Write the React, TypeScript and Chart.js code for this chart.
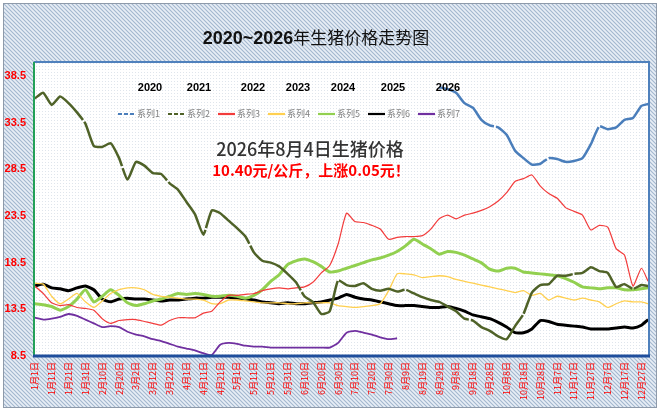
import { useEffect, useRef } from "react";
import { Chart, registerables } from "chart.js";

Chart.register(...registerables);

// ---- data ----
const sampleDays = [
  0, 5, 10, 15, 20, 25, 30, 35, 40, 45, 50, 55, 60, 65, 70, 75, 80, 85, 90, 95,
  100, 105, 110, 115, 120, 125, 130, 135, 140, 145, 150, 155, 160, 165, 170, 175,
  180, 185, 190, 195, 200, 205, 210, 215, 220, 225, 230, 235, 240, 245, 250, 255,
  260, 265, 270, 275, 280, 285, 290, 295, 300, 305, 310, 315, 320, 325, 330, 335,
  340, 345, 350, 355, 360, 364,
];

const tickDays = [
  0, 10, 20, 30, 40, 50, 60, 70, 80, 90, 100, 110, 120, 130, 140, 150, 160, 170,
  180, 190, 200, 210, 220, 230, 240, 250, 260, 270, 280, 290, 300, 310, 320, 330,
  340, 350, 360,
];

const tickLabels = [
  "1月1日", "1月11日", "1月21日", "1月31日", "2月10日", "2月20日", "3月2日",
  "3月12日", "3月22日", "4月1日", "4月11日", "4月21日", "5月1日", "5月11日",
  "5月21日", "5月31日", "6月10日", "6月20日", "6月30日", "7月10日", "7月20日",
  "7月30日", "8月9日", "8月19日", "8月29日", "9月8日", "9月18日", "9月28日",
  "10月8日", "10月18日", "10月28日", "11月7日", "11月17日", "11月27日",
  "12月7日", "12月17日", "12月27日",
];

const yTicks = [8.5, 13.5, 18.5, 23.5, 28.5, 33.5, 38.5];

const seriesNames = ["系列1", "系列2", "系列3", "系列4", "系列5", "系列6", "系列7"];
const yearLabels = ["2020", "2021", "2022", "2023", "2024", "2025", "2026"];

const N = null;
const series1 = [
  N, N, N, N, N, N, N, N, N, N, N, N, N, N, N, N, N, N, N, N,
  N, N, N, N, N, N, N, N, N, N, N, N, N, N, N, N, N, N, N, N,
  N, N, N, N, N, N, N, N,
  37.3, 37.1, 36.7, 35.6, 35.1, 33.8, 33.2, 33.0, 32.2, 30.5, 29.7, 29.0, 29.1,
  29.7, 29.6, 29.3, 29.4, 29.7, 31.2, 33.1, 32.8, 33.0, 33.8, 34.0, 35.3, 35.5,
];
const series2 = [
  36.1, 36.7, 35.4, 36.3, 35.6, 34.6, 33.4, 31.0, 30.9, 31.3, 29.7, 27.4, 29.3,
  28.9, 28.1, 28.0, 27.0, 26.3, 25.0, 23.7, 21.5, 24.1, 23.8, 23.0, 22.2, 21.3,
  19.6, 18.7, 18.5, 18.1, 17.3, 16.4, 14.9, 14.3, 13.0, 13.3, 16.6, 16.1, 16.0,
  16.3, 15.7, 15.5, 15.7, 15.4, 15.6, 15.2, 14.8, 14.5, 14.3, 13.8, 13.3, 12.5,
  12.3, 11.6, 11.2, 10.6, 10.3, 11.7, 13.0, 15.3, 16.1, 16.2, 17.1, 17.1, 17.3,
  17.4, 18.0, 17.6, 17.4, 15.9, 16.2, 15.7, 16.1, 16.0,
];
const series3 = [
  16.0, 15.2, 14.2, 13.9, 14.0, 13.7, 13.6, 13.4, 12.5, 12.0, 12.3, 12.4, 12.4,
  12.2, 12.0, 11.8, 12.3, 12.6, 12.6, 12.6, 13.1, 13.3, 14.3, 15.0, 15.0, 15.1,
  15.2, 15.5, 15.7, 15.8, 15.7, 15.8, 15.9, 16.4, 17.4, 18.2, 20.5, 23.8, 22.9,
  22.8, 22.5, 22.1, 21.0, 21.2, 21.3, 21.3, 21.4, 22.1, 23.2, 23.6, 23.2, 23.6,
  23.8, 24.1, 24.5, 25.1, 26.0, 27.2, 27.5, 27.9, 26.7, 25.9, 25.4, 24.4, 24.0,
  23.6, 22.0, 22.5, 22.3, 20.0, 19.3, 16.0, 17.9, 16.5,
];
const series4 = [
  16.3, 16.2, 14.9, 14.1, 14.6, 15.2, 14.3, 13.7, 14.4, 15.2, 15.6, 15.8, 15.8,
  15.6, 15.1, 14.9, 14.8, 14.7, 14.6, 14.6, 14.5, 14.1, 14.1, 14.5, 14.5, 14.4,
  14.3, 14.2, 14.2, 14.2, 14.1, 14.1, 14.2, 14.2, 14.2, 14.2, 13.9, 13.8, 13.7,
  13.8, 13.9, 14.1, 15.5, 17.3, 17.3, 17.2, 16.9, 17.0, 17.1, 17.0, 16.7, 16.5,
  16.3, 16.1, 15.9, 15.7, 15.5, 15.3, 15.5, 15.0, 15.2, 14.5, 14.9, 14.7, 14.5,
  14.7, 14.5, 14.3, 13.7, 14.1, 14.4, 14.3, 14.3, 14.1,
];
const series5 = [
  14.1, 14.0, 13.8, 13.4, 13.8, 14.6, 15.6, 14.3, 14.9, 15.6, 15.0, 14.2, 13.9,
  14.1, 14.4, 14.6, 14.9, 15.2, 15.1, 15.2, 15.1, 14.9, 14.9, 15.0, 14.9, 14.7,
  15.0, 15.6, 16.5, 17.2, 18.3, 18.7, 18.9, 18.6, 18.1, 17.5, 17.6, 17.9, 18.2,
  18.5, 18.8, 19.0, 19.3, 19.7, 20.3, 21.0, 20.5, 20.0, 19.4, 19.7, 19.6, 19.3,
  18.9, 18.5, 17.8, 17.6, 17.9, 17.9, 17.5, 17.4, 17.3, 17.2, 17.1, 16.8, 16.4,
  15.9, 15.8, 15.7, 15.8, 15.8, 15.6, 15.6, 15.7, 15.8,
];
const series6 = [
  16.0, 16.2, 15.8, 15.7, 15.5, 15.8, 16.0, 15.6, 14.6, 14.3, 14.6, 14.7, 14.6,
  14.6, 14.5, 14.4, 14.5, 14.5, 14.6, 14.7, 14.7, 14.8, 14.8, 14.8, 14.7, 14.6,
  14.5, 14.3, 14.2, 14.1, 14.2, 14.1, 14.1, 14.2, 14.3, 14.5, 14.7, 15.1, 14.8,
  14.6, 14.5, 14.3, 14.1, 13.9, 13.9, 13.9, 13.8, 13.7, 13.7, 13.8, 13.6, 13.3,
  12.9, 12.7, 12.5, 12.1, 11.6, 11.0, 11.0, 11.4, 12.3, 12.2, 11.9, 11.8, 11.7,
  11.6, 11.4, 11.4, 11.4, 11.5, 11.6, 11.5, 11.8, 12.4,
];
const series7 = [
  12.6, 12.4, 12.5, 12.7, 13.0, 12.8, 12.4, 12.0, 11.6, 11.7, 11.6, 11.1, 10.8,
  10.6, 10.3, 10.1, 9.8, 9.5, 9.3, 9.1, 8.8, 8.6, 9.7, 9.9, 9.8, 9.6, 9.5, 9.5,
  9.4, 9.4, 9.4, 9.4, 9.4, 9.4, 9.4, 9.4, 9.9, 11.0, 11.2, 11.0, 10.8, 10.5,
  10.3, 10.4,
  N, N, N, N, N, N, N, N, N, N, N, N, N, N, N, N, N, N, N, N, N, N, N, N, N, N,
  N, N, N, N,
];

const allSeries = [series1, series2, series3, series4, series5, series6, series7];

// ---- styles ----
const colors = ["#4a7ebb", "#4f6228", "#f23c3c", "#ffd050", "#92d050", "#000000", "#7030a0"];
const widths = [2.5, 2.5, 1.2, 1.3, 3, 3, 1.8];

const titleNum = "2020~2026";
const titleCJK = "年生猪价格走势图";
const noteLine1 = "2026年8月4日生猪价格";
const noteLine2 = "10.40元/公斤，上涨0.05元！";

function makeHatch(): CanvasPattern | string {
  const c = document.createElement("canvas");
  c.width = 4;
  c.height = 4;
  const g = c.getContext("2d");
  if (!g) return "#dde5ee";
  g.fillStyle = "#e8eef6";
  g.fillRect(0, 0, 4, 4);
  g.strokeStyle = "#a3b6ce";
  g.lineWidth = 1.1;
  g.beginPath();
  g.moveTo(-1, -1);
  g.lineTo(5, 5);
  g.moveTo(-1, 3);
  g.lineTo(1, 5);
  g.moveTo(3, -1);
  g.lineTo(5, 1);
  g.stroke();
  return g.createPattern(c, "repeat") || "#dde5ee";
}

function makeDots(): CanvasPattern | string {
  const c = document.createElement("canvas");
  c.width = 3;
  c.height = 3;
  const g = c.getContext("2d");
  if (!g) return "#ffffff";
  g.fillStyle = "#ffffff";
  g.fillRect(0, 0, 3, 3);
  g.fillStyle = "#dfe5ec";
  g.fillRect(0, 0, 1, 1);
  return g.createPattern(c, "repeat") || "#ffffff";
}

const decorPlugin = {
  id: "decor",
  beforeDraw(chart: any) {
    const ctx = chart.ctx as CanvasRenderingContext2D;
    const w = chart.width;
    const h = chart.height;
    const ca = chart.chartArea;
    ctx.save();
    ctx.fillStyle = "#ffffff";
    ctx.fillRect(0, 0, w, h);
    ctx.fillStyle = makeHatch();
    ctx.fillRect(3, 3, w - 6, h - 7);
    ctx.strokeStyle = "#8e9aaa";
    ctx.lineWidth = 1;
    ctx.strokeRect(3.5, 3.5, w - 7, h - 8);
    ctx.fillStyle = makeDots();
    ctx.fillRect(ca.left, ca.top, ca.right - ca.left, ca.bottom - ca.top);
    ctx.restore();
  },
  afterDatasetsDraw(chart: any) {
    const ctx = chart.ctx as CanvasRenderingContext2D;
    const ca = chart.chartArea;
    ctx.save();
    ctx.lineCap = "butt";
    ctx.strokeStyle = "#4f81bd";
    ctx.lineWidth = 2;
    ctx.beginPath();
    ctx.moveTo(ca.left, ca.top);
    ctx.lineTo(ca.right, ca.top);
    ctx.lineTo(ca.right, ca.bottom);
    ctx.stroke();
    ctx.strokeStyle = "#23a058";
    ctx.lineWidth = 2;
    ctx.beginPath();
    ctx.moveTo(ca.left, ca.top);
    ctx.lineTo(ca.left, ca.bottom);
    ctx.stroke();
    ctx.strokeStyle = "#1f4e9c";
    ctx.lineWidth = 3;
    ctx.beginPath();
    ctx.moveTo(ca.left - 1, ca.bottom);
    ctx.lineTo(ca.right + 1, ca.bottom);
    ctx.stroke();
    ctx.restore();
  },
  afterDraw(chart: any) {
    const ctx = chart.ctx as CanvasRenderingContext2D;
    ctx.save();
    ctx.textBaseline = "middle";
    ctx.textAlign = "left";
    const numFont = "bold 18px 'Liberation Sans', Arial, sans-serif";
    const cjkFont = "17px 'Noto Sans CJK SC', sans-serif";
    ctx.font = numFont;
    const w1 = ctx.measureText(titleNum).width;
    ctx.font = cjkFont;
    const w2 = ctx.measureText(titleCJK).width;
    const tx = 316 - (w1 + w2) / 2;
    ctx.fillStyle = "#111111";
    ctx.font = numFont;
    ctx.fillText(titleNum, tx, 39);
    ctx.font = cjkFont;
    ctx.fillText(titleCJK, tx + w1, 38);

    const yearX = [150, 199, 253, 298, 343, 393, 448];
    ctx.textAlign = "center";
    ctx.font = "bold 11px 'Liberation Sans', Arial, sans-serif";
    ctx.fillStyle = "#000000";
    yearLabels.forEach((t, i) => ctx.fillText(t, yearX[i], 88));

    ctx.textAlign = "left";
    ctx.font = "9px 'Noto Sans CJK SC', sans-serif";
    chart.data.datasets.forEach((ds: any, i: number) => {
      const x0 = 118 + 50 * i;
      const y = 114;
      ctx.strokeStyle = ds.borderColor;
      ctx.lineWidth = 2.2;
      ctx.setLineDash(i < 2 ? [4, 2] : []);
      ctx.beginPath();
      ctx.moveTo(x0, y);
      ctx.lineTo(x0 + 17, y);
      ctx.stroke();
      ctx.setLineDash([]);
      ctx.fillStyle = "#808080";
      ctx.fillText(ds.label, x0 + 19, y);
    });

    ctx.textAlign = "center";
    ctx.fillStyle = "#333333";
    ctx.font = "500 18px 'Noto Sans CJK SC', sans-serif";
    ctx.fillText(noteLine1, 310, 149);
    ctx.fillStyle = "#ff0000";
    ctx.font = "bold 15px 'Noto Sans CJK SC', sans-serif";
    ctx.fillText(noteLine2, 311, 170);
    ctx.restore();
  },
};

export default function App() {
  const ref = useRef<HTMLCanvasElement | null>(null);

  useEffect(() => {
    document.body.style.margin = "0";
    const canvas = ref.current;
    if (!canvas) return;
    const datasets = allSeries.map((arr, i) => ({
      label: seriesNames[i],
      data: sampleDays.map((d, k) => ({ x: d, y: arr[k] })),
      borderColor: colors[i],
      backgroundColor: colors[i],
      borderWidth: widths[i],
      borderDash: i < 2 ? [70, 2] : [],
      pointRadius: 0,
      pointHoverRadius: 0,
      tension: 0.18,
      fill: false,
      spanGaps: false,
    }));
    const chart = new Chart(canvas, {
      type: "line",
      data: { datasets },
      plugins: [decorPlugin],
      options: {
        animation: false,
        responsive: false,
        maintainAspectRatio: false,
        layout: { padding: { left: 0, right: 11, top: 62, bottom: 0 } },
        plugins: {
          legend: { display: false },
          tooltip: { enabled: false },
          title: { display: false },
        },
        scales: {
          x: {
            type: "linear",
            min: -0.5,
            max: 364.5,
            grid: { display: false, drawTicks: false },
            border: { display: false },
            afterBuildTicks: (scale: any) => {
              scale.ticks = tickDays.map((v) => ({ value: v }));
            },
            afterFit: (scale: any) => {
              scale.height = 56;
            },
            ticks: {
              autoSkip: false,
              maxRotation: 90,
              minRotation: 90,
              padding: 6,
              color: "#ff0000",
              font: { family: "'Noto Sans CJK SC', sans-serif", size: 9 },
              callback: (v: any) => {
                const idx = tickDays.indexOf(Number(v));
                return idx >= 0 ? tickLabels[idx] : "";
              },
            },
          },
          y: {
            type: "linear",
            min: 8.5,
            max: 40,
            grid: { display: false, drawTicks: false },
            border: { display: false },
            afterBuildTicks: (scale: any) => {
              scale.ticks = yTicks.map((v) => ({ value: v }));
            },
            afterFit: (scale: any) => {
              scale.width = 34;
            },
            ticks: {
              padding: 8,
              color: "#ff0000",
              font: { family: "'Liberation Sans', Arial, sans-serif", size: 11, weight: "bold" },
              callback: (v: any) => Number(v).toFixed(1),
            },
          },
        },
      },
    } as any);
    return () => chart.destroy();
  }, []);

  return (
    <div style={{ position: "absolute", left: 0, top: 0, width: 660, height: 412 }}>
      <canvas ref={ref} width={660} height={412} style={{ width: 660, height: 412, display: "block" }} />
    </div>
  );
}
